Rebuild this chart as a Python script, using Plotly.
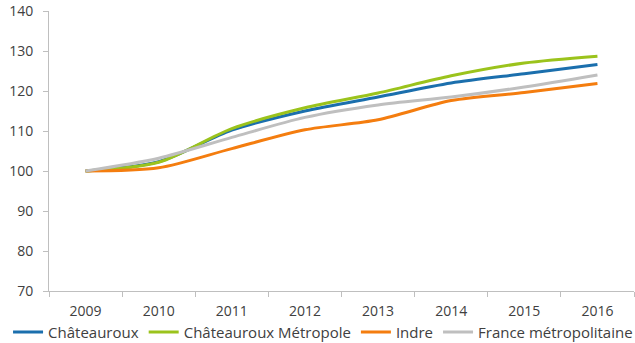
import plotly.graph_objects as go

years = ["2009", "2010", "2011", "2012", "2013", "2014", "2015", "2016"]

chateauroux = [100, 102.3, 110.2, 115.0, 118.5, 122.0, 124.3, 126.6]
chateauroux_metropole = [100, 102.2, 110.6, 115.8, 119.5, 123.8, 127.0, 128.7]
indre = [100, 100.8, 105.6, 110.3, 112.8, 117.6, 119.6, 121.9]
france_metro = [100, 103.2, 108.4, 113.4, 116.5, 118.5, 121.0, 124.0]

series = [
    ("Châteauroux", chateauroux, "#1b6fad"),
    ("Châteauroux Métropole", chateauroux_metropole, "#9bc31c"),
    ("Indre", indre, "#f47d0f"),
    ("France métropolitaine", france_metro, "#bfbfbf"),
]

fig = go.Figure()
for name, values, color in series:
    fig.add_trace(go.Scatter(
        x=years, y=values, name=name, mode="lines",
        line=dict(color=color, width=3, shape="spline", smoothing=0.8),
    ))

font_family = "Open Sans, DejaVu Sans, sans-serif"

fig.update_layout(
    width=635, height=343,
    margin=dict(l=49, r=1, t=11, b=52, autoexpand=False),
    paper_bgcolor="white", plot_bgcolor="white",
    font=dict(family=font_family, size=14, color="#404040"),
    showlegend=True,
    legend=dict(
        orientation="h", x=-0.07, xanchor="left",
        y=-0.088, yanchor="top",
        font=dict(size=15, color="#404040"),
        itemwidth=30, tracegroupgap=0, bgcolor="rgba(0,0,0,0)",
    ),
    xaxis=dict(
        type="category", range=[-0.5, 7.5],
        showline=True, linecolor="#bfbfbf", linewidth=1,
        ticks="outside", tickson="boundaries", ticklen=5, tickcolor="#bfbfbf",
        showgrid=False, zeroline=False, ticklabelstandoff=7,
    ),
    yaxis=dict(
        range=[70, 140], dtick=10,
        showline=True, linecolor="#bfbfbf", linewidth=1,
        ticks="outside", ticklen=5, tickcolor="#bfbfbf",
        showgrid=False, zeroline=False, ticklabelstandoff=7,
    ),
)

fig.write_html("out.html")
